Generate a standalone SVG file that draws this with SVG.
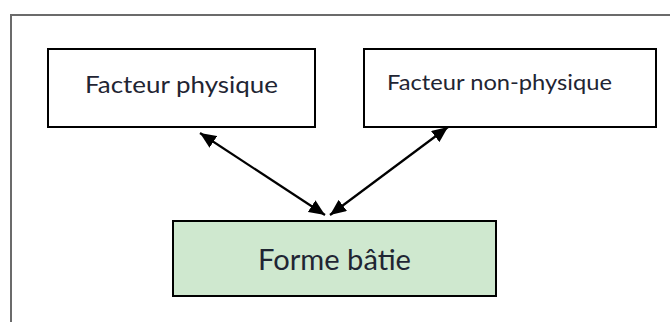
<svg xmlns="http://www.w3.org/2000/svg" width="670" height="322" viewBox="0 0 670 322">
  <style>
    .box { fill: #ffffff; stroke: #000000; stroke-width: 2; }
    .main { fill: #cfe8cf; stroke: #000000; stroke-width: 2; }
    .label { font-family: Lato, "Open Sans", "Liberation Sans", sans-serif; fill: #1f2533; }
    .link { stroke: #000000; stroke-width: 2.2; fill: none; marker-start: url(#head); marker-end: url(#head); }
  </style>
  <defs>
    <marker id="head" viewBox="0 0 16 14" refX="16" refY="7" markerWidth="16" markerHeight="14" markerUnits="userSpaceOnUse" orient="auto-start-reverse">
      <path d="M0,0 L16,7 L0,14 Z" fill="#000000"/>
    </marker>
  </defs>

  <rect width="670" height="322" fill="#ffffff"/>
  <!-- outer frame: only top and left edges are shown -->
  <path d="M11,322 V15 H670" fill="none" stroke="#6b6b6b" stroke-width="2"/>

  <g id="facteur-physique">
    <rect class="box" x="48" y="49" width="267" height="78"/>
    <text class="label" x="181.5" y="93" font-size="23" text-anchor="middle" textLength="193" lengthAdjust="spacingAndGlyphs">Facteur physique</text>
  </g>

  <g id="facteur-non-physique">
    <rect class="box" x="364" y="49" width="292" height="78"/>
    <text class="label" x="387" y="90" font-size="21" textLength="225" lengthAdjust="spacingAndGlyphs">Facteur non-physique</text>
  </g>

  <g id="forme-batie">
    <rect class="main" x="173" y="221" width="323" height="75"/>
    <text class="label" x="334.5" y="270" font-size="29" text-anchor="middle" textLength="153" lengthAdjust="spacingAndGlyphs">Forme bâtie</text>
  </g>

  <g id="connectors">
    <path class="link" d="M200,133 L325,215"/>
    <path class="link" d="M448,127 L330,215"/>
  </g>
</svg>
